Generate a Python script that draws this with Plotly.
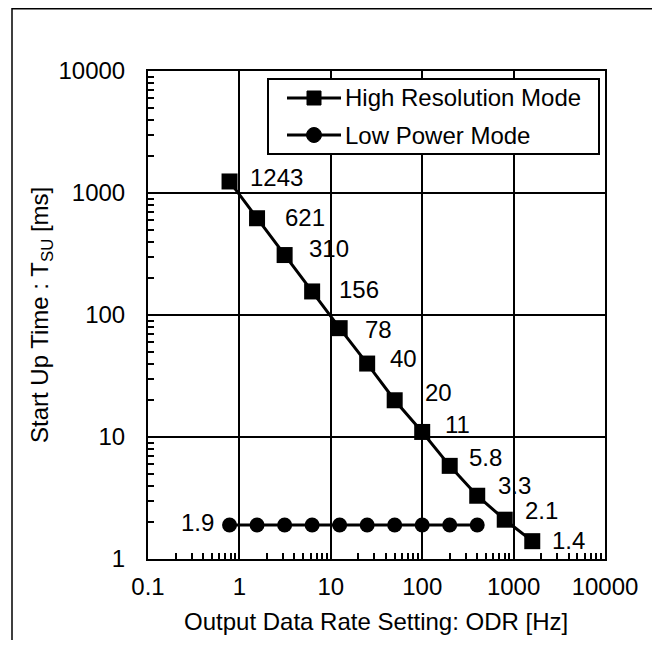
import math
import plotly.graph_objects as go

# ---------------- data ----------------
odr_high = [0.78, 1.56, 3.125, 6.25, 12.5, 25, 50, 100, 200, 400, 800, 1600]
tsu_high = [1243, 621, 310, 156, 78, 40, 20, 11, 5.8, 3.3, 2.1, 1.4]
labels_high = ["1243", "621", "310", "156", "78", "40", "20", "11", "5.8", "3.3", "2.1", "1.4"]

odr_low = [0.78, 1.56, 3.125, 6.25, 12.5, 25, 50, 100, 200, 400]
tsu_low = [1.9, 1.9, 1.9, 1.9, 1.9, 1.9, 1.9, 1.9, 1.9, 1.9]
label_low = "1.9"

x_tickvals = [0.1, 1, 10, 100, 1000, 10000]
x_ticktext = ["0.1", "1", "10", "100", "1000", "10000"]
y_tickvals = [1, 10, 100, 1000, 10000]
y_ticktext = ["1", "10", "100", "1000", "10000"]

series_names = ["High Resolution Mode", "Low Power Mode"]

# ---------------- style / layout ----------------
FONT = "Liberation Sans, Arial, sans-serif"
FS = 24
OFF = 8                      # page body margin
W, H = 652, 632
# plot area in window pixels
WL, WR, WT, WB = 148, 605, 71, 559
L, R, T, B = WL - OFF, WR - OFF, WT - OFF, WB - OFF
PW, PH = R - L, B - T

# label offsets in pixels (dx from marker centre to text left, dy upward)
hi_dx = [18, 26, 22, 25, 23, 21, 28, 21, 17, 19, 18, 18]
hi_dy = [4, 1, 7, 2, -1, 5, 8, 7, 8, 10, 9, 1]


def px(xw):
    return (xw - OFF - L) / PW


def py(yw):
    return (B - (yw - OFF)) / PH


fig = go.Figure()

fig.add_trace(go.Scatter(
    x=odr_high, y=tsu_high, mode="lines+markers", name=series_names[0],
    line=dict(color="black", width=3),
    marker=dict(symbol="square", size=16, color="black"),
    showlegend=False, cliponaxis=False,
))
fig.add_trace(go.Scatter(
    x=odr_low, y=tsu_low, mode="lines+markers", name=series_names[1],
    line=dict(color="black", width=3),
    marker=dict(symbol="circle", size=15, color="black"),
    showlegend=False, cliponaxis=False,
))

annotations = []
for xv, yv, t, dx, dy in zip(odr_high, tsu_high, labels_high, hi_dx, hi_dy):
    annotations.append(dict(
        x=math.log10(xv), y=math.log10(yv), xref="x", yref="y", text=t,
        showarrow=False, xanchor="left", yanchor="middle", xshift=dx, yshift=dy,
        font=dict(family=FONT, size=FS, color="black"),
    ))
annotations.append(dict(
    x=math.log10(odr_low[0]), y=math.log10(tsu_low[0]), xref="x", yref="y",
    text=label_low, showarrow=False, xanchor="right", yanchor="middle",
    xshift=-14, yshift=2,
    font=dict(family=FONT, size=FS, color="black"),
))

# axis titles
annotations.append(dict(
    x=px(376), y=py(621), xref="paper", yref="paper",
    text="Output Data Rate Setting: ODR [Hz]", showarrow=False,
    xanchor="center", yanchor="middle",
    font=dict(family=FONT, size=FS, color="black"),
))
annotations.append(dict(
    x=px(41), y=py(315), xref="paper", yref="paper",
    text="Start Up Time : T<sub>SU</sub> [ms]", showarrow=False,
    textangle=-90, xanchor="center", yanchor="middle",
    font=dict(family=FONT, size=FS, color="black"),
))

# legend (manual)
legend_rows = [98, 135]
for name, yrow in zip(series_names, legend_rows):
    annotations.append(dict(
        x=px(343), y=py(yrow), xref="paper", yref="paper", text=name,
        showarrow=False, xanchor="left", yanchor="middle",
        font=dict(family=FONT, size=FS, color="black"),
    ))

shapes = []
# outer border
shapes.append(dict(type="rect", xref="paper", yref="paper",
                   x0=px(12), x1=px(654), y0=py(660), y1=py(OFF + 0.8),
                   line=dict(color="black", width=1.5), fillcolor="rgba(0,0,0,0)"))
# legend box
shapes.append(dict(type="rect", xref="paper", yref="paper",
                   x0=px(268), x1=px(599), y0=py(154), y1=py(79),
                   line=dict(color="black", width=2), fillcolor="white", layer="above"))
for yrow in legend_rows:
    shapes.append(dict(type="line", xref="paper", yref="paper",
                       x0=px(287), x1=px(341), y0=py(yrow), y1=py(yrow),
                       line=dict(color="black", width=3), layer="above"))
shapes.append(dict(type="rect", xref="paper", yref="paper",
                   x0=px(307), x1=px(321), y0=py(105), y1=py(91),
                   line=dict(color="black", width=1), fillcolor="black", layer="above"))
shapes.append(dict(type="circle", xref="paper", yref="paper",
                   x0=px(306.5), x1=px(321.5), y0=py(142.5), y1=py(127.5),
                   line=dict(color="black", width=1), fillcolor="black", layer="above"))

axis_common = dict(
    type="log", showline=True, linecolor="black", linewidth=2, mirror=True,
    showgrid=True, gridcolor="black", gridwidth=2,
    ticks="inside", ticklen=6, tickwidth=2, tickcolor="black",
    tickfont=dict(family=FONT, size=FS, color="black"),
    tickmode="array", zeroline=False,
    minor=dict(ticks="inside", ticklen=6, tickwidth=1.5, tickcolor="black",
               showgrid=False, dtick="D1"),
)

fig.update_layout(
    width=W, height=H,
    margin=dict(l=L, r=W - R, t=T, b=H - B, autoexpand=False),
    paper_bgcolor="white", plot_bgcolor="white",
    font=dict(family=FONT, size=FS, color="black"),
    showlegend=False,
    xaxis=dict(range=[-1, 4], tickvals=x_tickvals, ticktext=x_ticktext,
               ticklabelstandoff=5, **axis_common),
    yaxis=dict(range=[0, 4], tickvals=y_tickvals, ticktext=y_ticktext,
               ticklabelstandoff=16, **axis_common),
    annotations=annotations,
    shapes=shapes,
)

fig.write_html("out.html")
